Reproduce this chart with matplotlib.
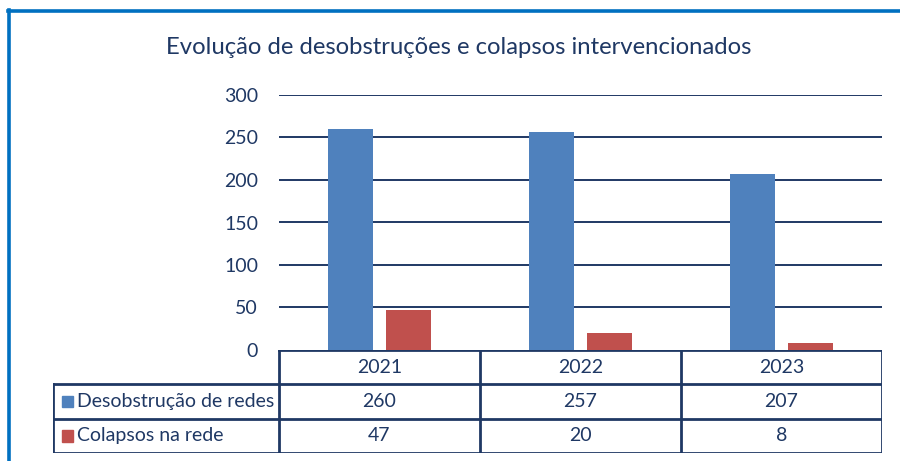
import matplotlib
matplotlib.use("Agg")
import matplotlib.pyplot as plt
from matplotlib.lines import Line2D
from matplotlib.patches import Rectangle
import numpy as np

years = ["2021", "2022", "2023"]
series_names = ["Desobstrução de redes", "Colapsos na rede"]
desobstrucao = [260, 257, 207]
colapsos = [47, 20, 8]
yticks = [0, 50, 100, 150, 200, 250, 300]

BLUE = "#4f81bd"
RED = "#c0504d"
NAVY = "#1f3864"
FRAME = "#0070c0"
FONT = "Lato"

W, H = 900, 461
fig = plt.figure(figsize=(W / 100, H / 100), dpi=100)


def fx(px): return px / W
def fy(py): return 1 - py / H


# frame lines (left and top)
fig.add_artist(Line2D([fx(9), fx(9)], [fy(10), fy(470)], color=FRAME, lw=2.6))
fig.add_artist(Line2D([fx(8), fx(905)], [fy(11), fy(11)], color=FRAME, lw=2.6))

fig.text(fx(459), fy(47), "Evolução de desobstruções e colapsos intervencionados",
         ha="center", va="center", fontsize=17.2, color=NAVY, family=FONT)

x0, x1, ytop, ybot = 279, 882, 95, 350
ax = fig.add_axes([fx(x0), fy(ybot), fx(x1) - fx(x0), fy(ytop) - fy(ybot)])
x = np.arange(len(years))
bw = 0.224
ax.bar(x - 0.145, desobstrucao, bw, color=BLUE, zorder=3)
ax.bar(x + 0.145, colapsos, bw, color=RED, zorder=3)
ax.set_xlim(-0.5, len(years) - 0.5)
ax.set_ylim(0, 300)
ax.set_yticks(yticks)
ax.set_yticklabels([str(t) for t in yticks], fontsize=14, color=NAVY, family=FONT)
ax.tick_params(axis="y", length=0, pad=15)
ax.set_xticks([])
for s in ax.spines.values():
    s.set_visible(False)
for t in yticks[1:]:
    ax.axhline(t, color=NAVY, lw=1.4, zorder=1)

# data table
tx0, tyt, tyb = 53, 350, 453
lab_w = (x0 - tx0) / ((x1 - x0) / len(years))
tab = fig.add_axes([fx(tx0), fy(tyb), fx(x1) - fx(tx0), fy(tyt) - fy(tyb)])
tab.set_xlim(-0.5 - lab_w, len(years) - 0.5)
tab.set_ylim(3, 0)
tab.axis("off")
lk = dict(color=NAVY, lw=2, solid_capstyle="projecting")
left = -0.5 - lab_w
right = len(years) - 0.5
tab.plot([-0.5, right], [0, 0], **lk)
for r in (1, 2, 3):
    tab.plot([left, right], [r, r], **lk)
tab.plot([left, left], [1, 3], **lk)
for c in range(len(years) + 1):
    tab.plot([c - 0.5, c - 0.5], [0, 3], **lk)
tfont = dict(fontsize=14, color=NAVY, family=FONT, va="center", ha="center")
for i, yr in enumerate(years):
    tab.text(i, 0.5, yr, **tfont)
    tab.text(i, 1.5, str(desobstrucao[i]), **tfont)
    tab.text(i, 2.5, str(colapsos[i]), **tfont)
for r, (name, col) in enumerate(zip(series_names, [BLUE, RED])):
    tab.add_patch(Rectangle((left + 0.045, 1.5 + r - 0.17), 0.055, 0.34,
                            color=col, transform=tab.transData))
    tab.text(left + 0.12, 1.5 + r, name, fontsize=14, color=NAVY, family=FONT,
             va="center", ha="left")

fig.savefig("out.png", dpi=100)
